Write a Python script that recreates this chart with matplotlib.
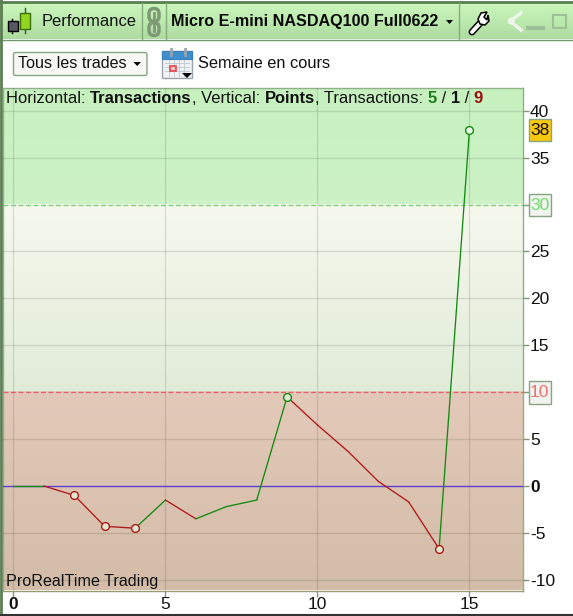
import matplotlib
matplotlib.use('Agg')
import matplotlib.pyplot as plt
from matplotlib.patches import Rectangle, FancyBboxPatch, Circle, Polygon
import numpy as np

plt.rcParams['font.family'] = ['Liberation Sans', 'DejaVu Sans']

# chart values
trades = [0, 1, 2, 3, 4, 5, 6, 7, 8, 9, 10, 11, 12, 13, 14, 15]
points = [0, 0, -1, -4.3, -4.5, -1.5, -3.5, -2.2, -1.5, 9.5, 6.5, 3.7, 0.5, -1.7, -6.7, 38]
marked = [2, 3, 4, 9, 14, 15]
y_ticks = [-10, -5, 0, 5, 10, 15, 20, 25, 30, 35, 40]
x_ticks = [0, 5, 10, 15]
upper_level = 30
lower_level = 10

W, H = 573, 616
fig = plt.figure(figsize=(W / 100, H / 100), dpi=100, facecolor='white')

# overlay in pixel coords for the window chrome
ui = fig.add_axes([0, 0, 1, 1], zorder=0)
ui.set_xlim(0, W)
ui.set_ylim(H, 0)
ui.axis('off')


def vgrad(a, x0, x1, y0, y1, c0, c1, z=1):
    g = np.linspace(0, 1, 64)[:, None, None]
    c0 = np.array(matplotlib.colors.to_rgb(c0))
    c1 = np.array(matplotlib.colors.to_rgb(c1))
    a.imshow(c0 * (1 - g) + c1 * g, extent=(x0, x1, y1, y0), aspect='auto', zorder=z, interpolation='bilinear')


# title bar
vgrad(ui, 0, W, 3, 39, '#cbf7bd', '#aedca0')
ui.plot([0, W], [1.5, 1.5], color='#5b7d52', lw=2, zorder=3)
ui.plot([0, W], [39.5, 39.5], color='#6f9a66', lw=1, zorder=3)
ui.plot([1, 1], [0, 616], color='#5b7d52', lw=2, zorder=5)
for xv in [142, 166, 459]:
    ui.plot([xv, xv], [3, 39], color='#86ab7c', lw=1, zorder=3)

# candlestick logo
ui.plot([12, 12], [19, 33], color='black', lw=1, zorder=3)
ui.add_patch(Rectangle((7.5, 20.5), 10, 10, fc='#555a60', ec='black', lw=1, zorder=4))
ui.plot([24.5, 24.5], [8, 33], color='#2f5a10', lw=1, zorder=3)
ui.add_patch(Rectangle((19.5, 13), 10, 16, fc='#8fd61e', ec='#3c6e10', lw=1, zorder=4))
ui.text(41.5, 21.5, 'Performance', fontsize=11.9, va='center', ha='left', color='#111111', zorder=4)

# link icon
for yv in [15, 29]:
    ui.add_patch(FancyBboxPatch((149, yv - 6.5), 10, 13, boxstyle='round,pad=0,rounding_size=5',
                                fc='none', ec='#7d9a74', lw=2.5, zorder=4))
ui.plot([154, 154], [13, 31], color='#7d9a74', lw=2, zorder=4)

ui.text(171, 21.5, 'Micro E-mini NASDAQ100 Full0622', fontsize=11.6, fontweight='bold', va='center',
        ha='left', color='#0a0a0a', zorder=4)
ui.add_patch(Polygon([[446, 20], [453, 20], [449.5, 24]], fc='black', ec='none', zorder=4))

# wrench
ui.plot([472, 482], [32, 21], color='black', lw=5, solid_capstyle='round', zorder=4)
ui.plot([472, 482], [32, 21], color='white', lw=2.8, solid_capstyle='round', zorder=5)
ui.add_patch(Polygon([[478, 19], [481, 13], [487, 12], [484, 17], [487, 20], [488, 15], [489, 21], [485, 25], [480, 24]],
                     fc='white', ec='black', lw=1.1, zorder=6))

# greyed out window buttons
ui.plot([521, 510, 521], [13, 21, 30], color='#eef5ea', lw=2.5, zorder=4)
ui.add_patch(Circle((511, 21), 3.5, fc='#eef5ea', ec='none', zorder=4))
ui.plot([528, 543], [27.5, 27.5], color='#9fc096', lw=3, zorder=4)
ui.add_patch(Rectangle((552.5, 15), 13, 13, fc='none', ec='#9fc096', lw=1.5, zorder=4))

# combobox
ui.add_patch(FancyBboxPatch((13.5, 52.5), 133.5, 23, boxstyle='round,pad=0,rounding_size=2',
                            fc='#f7f7f3', ec='#86a57e', lw=1, zorder=3))
ui.text(17.5, 64, 'Tous les trades', fontsize=11.6, va='center', ha='left', color='#111111', zorder=4)
ui.add_patch(Polygon([[133.5, 62], [141, 62], [137.2, 66]], fc='black', ec='none', zorder=4))

# calendar icon
ui.add_patch(Rectangle((162, 51), 30, 27, fc='#eef2f6', ec='#9aa3ad', lw=1, zorder=3))
ui.add_patch(Rectangle((162, 51), 30, 8, fc='#3d8fd0', ec='#3d7fb8', lw=0.8, zorder=4))
ui.plot([171, 171], [49, 55], color='#9aa3ad', lw=2, zorder=5)
ui.plot([185, 185], [49, 55], color='#9aa3ad', lw=2, zorder=5)
for yv in [63, 67, 71]:
    ui.plot([165, 189], [yv, yv], color='#c5ccd4', lw=0.7, zorder=4)
for xv in [169, 174, 179, 184]:
    ui.plot([xv, xv], [60, 76], color='#c5ccd4', lw=0.7, zorder=4)
ui.add_patch(Rectangle((170, 66), 6, 5, fc='#f7c7c7', ec='#e8434a', lw=1.2, zorder=5))
ui.add_patch(Polygon([[182, 73], [192, 73], [187, 78]], fc='black', ec='none', zorder=6))
ui.text(198, 64, 'Semaine en cours', fontsize=11.8, va='center', ha='left', color='#111111', zorder=4)

# chart, placed so that x 0/15 and y 40/-10 land on their pixels
left, right, top, bottom = 3, 523, 88, 590.5
ax = fig.add_axes([left / W, 1 - bottom / H, (right - left) / W, (bottom - top) / H], zorder=2)
x_per = (469.5 - 13.5) / 15
y_per = (580.5 - 111.5) / 50
ax.set_xlim((left - 13.5) / x_per, (right - 13.5) / x_per)
ax.set_ylim((486 - bottom) / y_per, (486 - top) / y_per)
y0, y1 = ax.get_ylim()
x0, x1 = ax.get_xlim()

vgrad(ax, x0, x1, y1, upper_level, '#c6f1bf', '#cdf2c6')
vgrad(ax, x0, x1, upper_level, lower_level, '#f6f8ee', '#e1ecd8')
vgrad(ax, x0, x1, lower_level, y0, '#e3c9b9', '#d3bda8')
ax.set_xlim(x0, x1)
ax.set_ylim(y0, y1)

ax.grid(True, color='#000000', alpha=0.11, lw=1)
ax.set_axisbelow(False)
ax.set_xticks(x_ticks)
ax.set_yticks(y_ticks)
ax.yaxis.tick_right()
ax.set_xticklabels([str(v) for v in x_ticks], fontsize=12.5)
ax.set_yticklabels([str(v) for v in y_ticks], fontsize=12.5)
ax.tick_params(axis='x', length=4, width=1, color='#7d9a74', pad=1, labelcolor='#111111')
ax.tick_params(axis='y', length=4, width=1, color='#7d9a74', pad=1, labelcolor='#111111')
ax.xaxis.get_major_ticks()[x_ticks.index(0)].label1.set_fontweight('bold')
ax.yaxis.get_major_ticks()[y_ticks.index(0)].label2.set_fontweight('bold')
# levels have their own lines, no grid under them
for tick, v in zip(ax.yaxis.get_major_ticks(), y_ticks):
    if v in (0, upper_level, lower_level):
        tick.gridline.set_visible(False)
for name, sp in ax.spines.items():
    sp.set_color('#8fb088' if name != 'bottom' else '#9a9a70')
    sp.set_linewidth(1)

ax.axhline(upper_level, color='#6fd06c', lw=0.9, ls=(0, (4, 2)), zorder=3)
ax.axhline(lower_level, color='#e8606a', lw=0.9, ls=(0, (4, 2)), zorder=3)
ax.axhline(0, color='#5a3fd0', lw=1, zorder=3)

# equity curve, segment colour follows the direction of the trade
for i in range(len(trades) - 1):
    up = points[i + 1] >= points[i]
    ax.plot(trades[i:i + 2], points[i:i + 2], color='#138a13' if up else '#b01818', lw=0.95, zorder=4,
            solid_capstyle='round')
for t in marked:
    prev_up = points[t] >= points[t - 1]
    col = '#138a13' if prev_up else '#b01818'
    face = '#f0fbec' if points[t] > upper_level else '#dfe8d2'
    ax.plot(trades[t], points[t], 'o', ms=5.6, mfc=face, mec=col, mew=1, zorder=5)

ui2 = fig.add_axes([0, 0, 1, 1], zorder=3)
ui2.set_xlim(0, W)
ui2.set_ylim(H, 0)
ui2.axis('off')
ui2.patch.set_alpha(0)

# header text over the plot
xpos = 6
parts = [('Horizontal: ', 'normal', '#111111'), ('Transactions', 'bold', '#111111'), (', Vertical: ', 'normal', '#111111'),
         ('Points', 'bold', '#111111'), (', Transactions: ', 'normal', '#111111'), ('5', 'bold', '#1c7a1c'),
         (' / ', 'normal', '#111111'), ('1', 'bold', '#111111'), (' / ', 'normal', '#111111'), ('9', 'bold', '#9a1010')]
r = fig.canvas.get_renderer()
for s, w, c in parts:
    tx = ui2.text(xpos, 98.5, s, fontsize=11.85, fontweight=w, color=c, va='center', ha='left')
    tx_w = r.get_text_width_height_descent(s.replace(' ', '\u00a0'), tx.get_fontproperties(), False)[0]
    xpos += tx_w

ui2.text(6, 581.5, 'ProRealTime Trading', fontsize=11.6, color='#111111', va='center', ha='left')

# value flags on the right scale
ui2.add_patch(Rectangle((528.5, 118.5), 22, 22.5, fc='#f9c80e', ec='#86a57e', lw=1))
ui2.text(539.5, 130.5, str(points[-1]), fontsize=12.5, color='#111111', ha='center', va='center')
ui2.add_patch(Rectangle((528.5, 193.5), 22, 22.5, fc='#f1f3ee', ec='#86a57e', lw=1))
ui2.text(539.5, 205.5, str(upper_level), fontsize=12.5, color='#6fdc6c', ha='center', va='center')
ui2.add_patch(Rectangle((528.5, 381), 22, 22.5, fc='#f1f3ee', ec='#86a57e', lw=1))
ui2.text(539.5, 392.5, str(lower_level), fontsize=12.5, color='#ee7070', ha='center', va='center')

# bottom edge of the window
ui2.plot([0, W], [615, 615], color='#333333', lw=1.5)

fig.savefig('out.png', dpi=100)
